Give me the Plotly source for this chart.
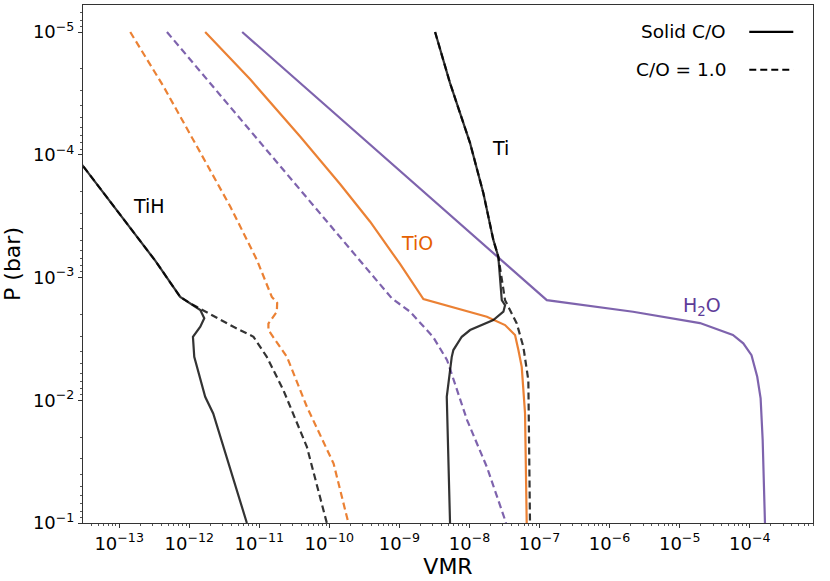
import plotly.graph_objects as go

# pressure levels (bar) and VMR for each species
# Solid = solar C/O, dashed = C/O = 1.0

h2o_p = [1e-5, 1.53e-3, 1.90e-3, 2.35e-3, 2.94e-3, 3.44e-3, 4.29e-3, 6.44e-3, 9.66e-3, 2.11e-2, 0.1]
h2o_solar = [5.70e-12, 1.27e-7, 2.16e-6, 1.95e-5, 5.75e-5, 8.09e-5, 1.06e-4, 1.28e-4, 1.43e-4, 1.53e-4, 1.65e-4]

h2o_p_co1 = [1e-5, 1.48e-3, 1.90e-3, 3.05e-3, 4.71e-3, 1.45e-2, 3.52e-2, 0.1]
h2o_co1 = [4.81e-13, 7.80e-10, 1.42e-9, 3.03e-9, 4.79e-9, 9.24e-9, 1.78e-8, 3.33e-8]

tio_p = [1e-5, 2.43e-5, 7.11e-5, 1.74e-4, 3.51e-4, 7.76e-4, 1.50e-3, 2.09e-3, 2.44e-3, 2.94e-3,
         3.90e-3, 5.35e-3, 1.28e-2, 0.1]
tio_solar = [1.69e-12, 7.41e-12, 3.83e-11, 1.43e-10, 3.82e-10, 1.02e-9, 2.20e-9, 1.77e-8, 3.22e-8, 4.47e-8,
             4.99e-8, 5.57e-8, 6.21e-8, 6.56e-8]

tio_p_co1 = [1e-5, 2.78e-5, 8.57e-5, 2.64e-4, 7.19e-4, 1.44e-3, 1.61e-3, 1.90e-3, 2.37e-3,
             2.68e-3, 4.43e-3, 1.13e-2, 3.28e-2, 0.1]
tio_co1 = [1.44e-13, 4.30e-13, 1.29e-12, 3.85e-12, 9.25e-12, 1.51e-11, 1.80e-11, 1.78e-11, 1.35e-11,
           1.35e-11, 2.48e-11, 4.78e-11, 1.15e-10, 1.87e-10]

tih_p = [9.0e-5, 1.25e-4, 2.10e-4, 3.86e-4, 7.29e-4, 1.44e-3, 1.62e-3, 1.84e-3, 2.15e-3, 2.52e-3, 3.04e-3,
         4.43e-3, 9.38e-3, 1.28e-2, 0.1]
tih_solar = [2.0e-14, 3.10e-14, 6.34e-14, 1.44e-13, 3.27e-13, 7.44e-13, 1.03e-12, 1.44e-12, 1.64e-12,
             1.44e-12, 1.13e-12, 1.18e-12, 1.69e-12, 2.20e-12, 6.65e-12]

tih_p_co1 = [9.0e-5, 1.25e-4, 2.10e-4, 3.86e-4, 7.29e-4, 1.44e-3, 1.62e-3, 2.52e-3, 3.04e-3, 4.43e-3,
             8.28e-3, 2.40e-2, 0.1]
tih_co1 = [2.0e-14, 3.10e-14, 6.34e-14, 1.44e-13, 3.27e-13, 7.44e-13, 1.03e-12, 4.28e-12, 8.26e-12,
           1.28e-11, 2.21e-11, 4.78e-11, 9.20e-11]

ti_p = [1e-5, 2.61e-5, 8.04e-5, 2.06e-4, 4.94e-4, 6.76e-4, 1.53e-3, 1.68e-3, 1.90e-3, 2.22e-3,
        2.68e-3, 3.04e-3, 3.90e-3, 4.45e-3, 9.38e-3, 0.1]
ti_solar = [3.23e-9, 5.28e-9, 1.02e-8, 1.58e-8, 2.19e-8, 2.58e-8, 2.89e-8, 3.22e-8, 3.05e-8, 2.19e-8,
            1.02e-8, 7.76e-9, 5.89e-9, 5.58e-9, 4.74e-9, 5.28e-9]

ti_p_co1 = [1e-5, 2.61e-5, 8.04e-5, 2.06e-4, 4.94e-4, 6.76e-4, 1.53e-3, 2.37e-3, 3.66e-3, 6.86e-3, 0.1]
ti_co1 = [3.23e-9, 5.28e-9, 1.02e-8, 1.58e-8, 2.19e-8, 2.58e-8, 3.22e-8, 4.73e-8, 5.87e-8, 6.92e-8, 7.31e-8]

x_ticks = [1e-13, 1e-12, 1e-11, 1e-10, 1e-9, 1e-8, 1e-7, 1e-6, 1e-5, 1e-4]
x_labels = ["10<sup>−13</sup>", "10<sup>−12</sup>", "10<sup>−11</sup>", "10<sup>−10</sup>", "10<sup>−9</sup>",
            "10<sup>−8</sup>", "10<sup>−7</sup>", "10<sup>−6</sup>", "10<sup>−5</sup>", "10<sup>−4</sup>"]
y_ticks = [1e-5, 1e-4, 1e-3, 1e-2, 1e-1]
y_labels = ["10<sup>−5</sup>", "10<sup>−4</sup>", "10<sup>−3</sup>", "10<sup>−2</sup>", "10<sup>−1</sup>"]

BLACK = "rgba(0,0,0,0.8)"
ORANGE = "rgba(230,97,1,0.8)"
PURPLE = "rgba(94,60,153,0.8)"
FONT = "DejaVu Sans"
DASH = "7px,4px"

fig = go.Figure()

series = [
    (h2o_solar, h2o_p, PURPLE, "solid"),
    (h2o_co1, h2o_p_co1, PURPLE, DASH),
    (tio_solar, tio_p, ORANGE, "solid"),
    (tio_co1, tio_p_co1, ORANGE, DASH),
    (tih_solar, tih_p, BLACK, "solid"),
    (tih_co1, tih_p_co1, BLACK, DASH),
    (ti_solar, ti_p, BLACK, "solid"),
    (ti_co1, ti_p_co1, BLACK, DASH),
]
for x, y, col, dash in series:
    fig.add_trace(go.Scatter(x=x, y=y, mode="lines", line=dict(color=col, width=2.2, dash=dash),
                             showlegend=False, hoverinfo="skip"))

# species labels (log10 coordinates)
labels = [("TiH", -12.58, -3.58, "black"), ("TiO", -8.75, -3.285, "#e66101"),
          ("Ti", -7.56, -4.056, "black"), ("H<sub>2</sub>O", -4.686, -2.76, "#5e3c99")]
for txt, lx, ly, col in labels:
    fig.add_annotation(x=lx, y=ly, xref="x", yref="y", text=txt, showarrow=False,
                       font=dict(family=FONT, size=19, color=col))

# legend drawn by hand: text on the left, line sample on the right
for txt, yy, dash in [("Solid C/O", 0.948, "solid"), ("C/O = 1.0", 0.875, DASH)]:
    fig.add_annotation(x=0.8836, y=yy, xref="paper", yref="paper", text=txt, showarrow=False,
                       xanchor="right", yanchor="middle", font=dict(family=FONT, size=18.5, color="black"))
    fig.add_shape(type="line", xref="paper", yref="paper", x0=0.9127, x1=0.973, y0=yy, y1=yy,
                  line=dict(color="black", width=2.2, dash=dash))

minor_x = [m * 10.0 ** e for e in range(-15, -2) for m in range(2, 10)]
minor_y = [m * 10.0 ** e for e in range(-6, 0) for m in range(2, 10)]

fig.update_xaxes(type="log", range=[-13.516, -3.097], title=dict(text="VMR", standoff=4),
                 tickmode="array", tickvals=x_ticks, ticktext=x_labels,
                 ticks="outside", ticklen=4, tickcolor="#333", showgrid=False, zeroline=False,
                 showline=True, linecolor="#333", linewidth=1, mirror=True, automargin=False,
                 minor=dict(tickmode="array", tickvals=minor_x, ticks="outside", ticklen=2,
                            tickcolor="#555", showgrid=False),
                 tickfont=dict(family=FONT, size=18, color="black"))
fig.update_yaxes(type="log", range=[-1, -5.22], title=dict(text="P (bar)", standoff=6),
                 tickmode="array", tickvals=y_ticks, ticktext=y_labels,
                 ticks="outside", ticklen=4, tickcolor="#333", showgrid=False, zeroline=False,
                 showline=True, linecolor="#333", linewidth=1, mirror=True, automargin=False,
                 minor=dict(tickmode="array", tickvals=minor_y, ticks="outside", ticklen=2,
                            tickcolor="#555", showgrid=False),
                 tickfont=dict(family=FONT, size=18, color="black"))

fig.update_layout(width=830, height=581, margin=dict(l=83, r=17, t=5, b=58),
                  plot_bgcolor="white", paper_bgcolor="white",
                  font=dict(family=FONT, size=18.5, color="black"))

# the page body has a default 8px margin; drop it so the figure sits at the window corner
fig.write_html("out.html", config={"displayModeBar": False},
               post_script="document.body.style.margin='0';")
